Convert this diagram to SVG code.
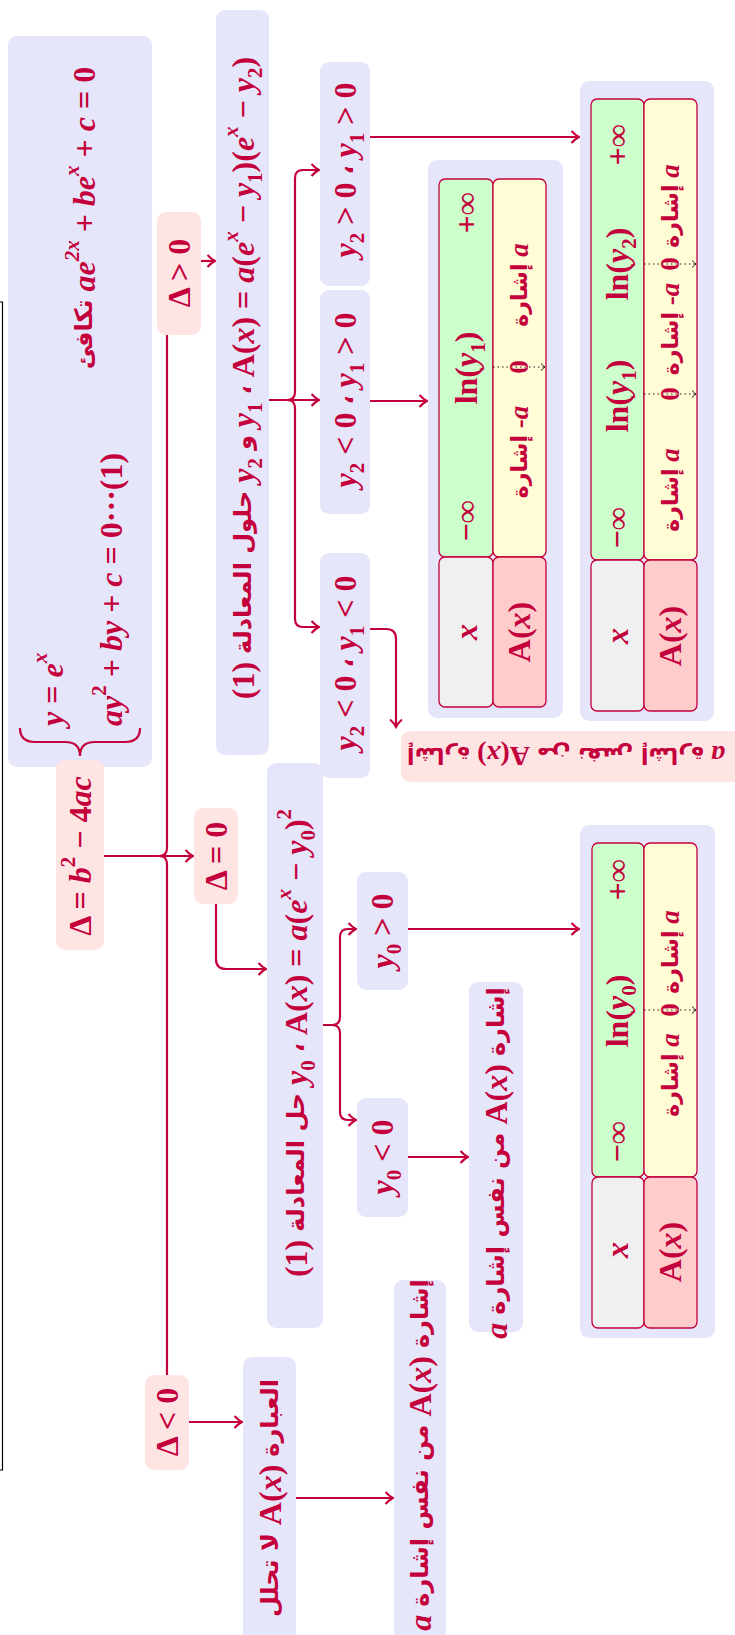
<svg xmlns="http://www.w3.org/2000/svg" width="735" height="1635" viewBox="0 0 735 1635">
<style>
.lav{fill:#e6e6fa}
.pk{fill:#ffe4e4}
.cell{stroke:#c4003c;stroke-width:1.3}
.g{fill:#ccffcc}.y{fill:#fffcd6}.gr{fill:#f0f0f0}.r{fill:#ffcccc}
.c{fill:none;stroke:#c4003c;stroke-width:2.2}
.t{fill:#c4003c;font-family:"Liberation Serif",serif;font-weight:bold;font-size:32px;text-anchor:middle;dominant-baseline:central}
.s{text-anchor:start}
.i{font-style:italic}
.ar{font-family:"DejaVu Sans",sans-serif;font-size:24px;font-style:normal}
.tb{font-size:27px}
.tb .ar{font-size:22px}
.fl{font-size:28px}
.fl .ar{font-size:22px}
.dot{stroke:#000;stroke-width:0.9;stroke-dasharray:1.5 3;fill:none}
</style>
<defs>
<marker id="a" viewBox="-9 -7 11 14" refX="0" refY="0" markerWidth="11" markerHeight="14" markerUnits="userSpaceOnUse" orient="auto">
<path d="M-7.5,-6 C-4,-2 -1,-0.5 0,0 C-1,0.5 -4,2 -7.5,6" fill="none" stroke="#c4003c" stroke-width="2"/>
</marker>
<marker id="b" viewBox="-6 -5 7 10" refX="0" refY="0" markerWidth="7" markerHeight="10" markerUnits="userSpaceOnUse" orient="auto">
<path d="M-4,-3.5 Q-1,-0.5 0,0 Q-1,0.5 -4,3.5" fill="none" stroke="#000" stroke-width="0.9"/>
</marker>
</defs>
<rect width="735" height="1635" fill="#fff"/>
<path d="M0,302 H2.5 V1470 H0" fill="none" stroke="#000" stroke-width="1.2"/>

<g id="connectors">
<path class="c" d="M104,856 H193" marker-end="url(#a)"/>
<path class="c" d="M104,856 H159 Q167,856 167,848 V335"/>
<path class="c" d="M159,856 Q167,856 167,864 V1375"/>
<path class="c" d="M201,261 H215" marker-end="url(#a)"/>
<path class="c" d="M216,904 V959 Q216,969 226,969 H266" marker-end="url(#a)"/>
<path class="c" d="M189,1422 H242" marker-end="url(#a)"/>
<path class="c" d="M269,400 H319" marker-end="url(#a)"/>
<path class="c" d="M269,400 H287 Q295,400 295,392 V178 Q295,170 303,170 H319" marker-end="url(#a)"/>
<path class="c" d="M287,400 Q295,400 295,408 V619 Q295,627 303,627 H319" marker-end="url(#a)"/>
<path class="c" d="M370,137 H579" marker-end="url(#a)"/>
<path class="c" d="M370,401 H427" marker-end="url(#a)"/>
<path class="c" d="M370,629 H386 Q396,629 396,639 V727" marker-end="url(#a)"/>
<path class="c" d="M323,1025 H332 Q340,1025 340,1017 V937 Q340,929 348,929 H356" marker-end="url(#a)"/>
<path class="c" d="M332,1025 Q340,1025 340,1033 V1112 Q340,1120 348,1120 H356" marker-end="url(#a)"/>
<path class="c" d="M408,929 H579" marker-end="url(#a)"/>
<path class="c" d="M408,1157 H468" marker-end="url(#a)"/>
<path class="c" d="M296,1498 H393" marker-end="url(#a)"/>
</g>

<g id="n-system">
<rect class="lav" x="8" y="36" width="144" height="731" rx="9"/>
<text class="t" x="84" y="218" transform="rotate(-90 84 218)"><tspan class="ar">&#x2067;تكافئ&#x2069;</tspan> <tspan class="i">ae</tspan><tspan class="i" baseline-shift="super" font-size="21">2x</tspan> + <tspan class="i">be</tspan><tspan class="i" baseline-shift="super" font-size="21">x</tspan> + <tspan class="i">c</tspan> = 0</text>
<text class="t s" x="52" y="726" transform="rotate(-90 52 726)"><tspan class="i">y</tspan> = <tspan class="i">e</tspan><tspan class="i" baseline-shift="super" font-size="21">x</tspan></text>
<text class="t s" x="111" y="726" transform="rotate(-90 111 726)"><tspan class="i">ay</tspan><tspan baseline-shift="super" font-size="21">2</tspan> + <tspan class="i">by</tspan> + <tspan class="i">c</tspan> = 0···(1)</text>
<path class="c" d="M20,728 Q20,742 35,742 H65 Q80,742 80,756 Q80,742 95,742 H125 Q140,742 140,728"/>
</g>

<g id="n-delta">
<rect class="pk" x="56" y="760" width="48" height="190" rx="9"/>
<text class="t" x="80" y="856" transform="rotate(-90 80 856)">Δ = <tspan class="i">b</tspan><tspan baseline-shift="super" font-size="21">2</tspan> − 4<tspan class="i">ac</tspan></text>
</g>

<g id="n-dpos">
<rect class="pk" x="157" y="212" width="44" height="123" rx="9"/>
<text class="t" x="179" y="273" transform="rotate(-90 179 273)">Δ &gt; 0</text>
</g>
<g id="n-dzero">
<rect class="pk" x="194" y="808" width="44" height="96" rx="9"/>
<text class="t" x="216" y="856" transform="rotate(-90 216 856)">Δ = 0</text>
</g>
<g id="n-dneg">
<rect class="pk" x="145" y="1375" width="44" height="95" rx="9"/>
<text class="t" x="167" y="1422" transform="rotate(-90 167 1422)">Δ &lt; 0</text>
</g>

<g id="n-two-roots">
<rect class="lav" x="216" y="10" width="53" height="745" rx="9"/>
<text class="t" x="243" y="378" transform="rotate(-90 243 378)">(1) <tspan class="ar">&#x2067;المعادلة&#x2069; &#x2067;حلول&#x2069;</tspan> <tspan class="i">y</tspan><tspan baseline-shift="sub" font-size="21">2</tspan> <tspan class="ar">&#x2067;و&#x2069;</tspan> <tspan class="i">y</tspan><tspan baseline-shift="sub" font-size="21">1</tspan> <tspan class="ar">&#x2067;،&#x2069;</tspan> A(<tspan class="i">x</tspan>) = <tspan class="i">a</tspan>(<tspan class="i">e</tspan><tspan class="i" baseline-shift="super" font-size="21">x</tspan> − <tspan class="i">y</tspan><tspan baseline-shift="sub" font-size="21">1</tspan>)(<tspan class="i">e</tspan><tspan class="i" baseline-shift="super" font-size="21">x</tspan> − <tspan class="i">y</tspan><tspan baseline-shift="sub" font-size="21">2</tspan>)</text>
</g>

<g id="n-pp">
<rect class="lav" x="320" y="62" width="50" height="224" rx="9"/>
<text class="t" x="345" y="170" transform="rotate(-90 345 170)"><tspan class="i">y</tspan><tspan baseline-shift="sub" font-size="21">2</tspan> &gt; 0 <tspan class="ar">&#x2067;،&#x2069;</tspan> <tspan class="i">y</tspan><tspan baseline-shift="sub" font-size="21">1</tspan> &gt; 0</text>
</g>
<g id="n-np">
<rect class="lav" x="320" y="290" width="50" height="224" rx="9"/>
<text class="t" x="345" y="400" transform="rotate(-90 345 400)"><tspan class="i">y</tspan><tspan baseline-shift="sub" font-size="21">2</tspan> &lt; 0 <tspan class="ar">&#x2067;،&#x2069;</tspan> <tspan class="i">y</tspan><tspan baseline-shift="sub" font-size="21">1</tspan> &gt; 0</text>
</g>
<g id="n-nn">
<rect class="lav" x="320" y="553" width="50" height="225" rx="9"/>
<text class="t" x="345" y="663" transform="rotate(-90 345 663)"><tspan class="i">y</tspan><tspan baseline-shift="sub" font-size="21">2</tspan> &lt; 0 <tspan class="ar">&#x2067;،&#x2069;</tspan> <tspan class="i">y</tspan><tspan baseline-shift="sub" font-size="21">1</tspan> &lt; 0</text>
</g>

<g id="n-flip">
<rect class="pk" x="401" y="731" width="345" height="51" rx="9"/>
<text class="t fl" x="566" y="756" transform="rotate(180 566 756)"><tspan class="i">a</tspan> <tspan class="ar">&#x2067;إشارة&#x2069; &#x2067;نفس&#x2069; &#x2067;من&#x2069;</tspan> A(<tspan class="i">x</tspan>) <tspan class="ar">&#x2067;إشارة&#x2069;</tspan></text>
</g>

<g id="table1">
<rect class="lav" x="428" y="160" width="135" height="558" rx="9"/>
<rect class="cell g" x="439" y="179" width="54" height="378" rx="6"/>
<rect class="cell y" x="493" y="179" width="53" height="378" rx="6"/>
<rect class="cell gr" x="439" y="557" width="54" height="150" rx="6"/>
<rect class="cell r" x="493" y="557" width="53" height="150" rx="6"/>
<path class="dot" d="M493,367 H545" marker-end="url(#b)"/>
<text class="t i" x="466" y="632" transform="rotate(-90 466 632)">x</text>
<text class="t" x="519" y="632" transform="rotate(-90 519 632)">A(<tspan class="i">x</tspan>)</text>
<text class="t" x="466" y="521" transform="rotate(-90 466 521)">−∞</text>
<text class="t" x="466" y="368" transform="rotate(-90 466 368)">ln(<tspan class="i">y</tspan><tspan baseline-shift="sub" font-size="21">1</tspan>)</text>
<text class="t" x="466" y="213" transform="rotate(-90 466 213)">+∞</text>
<text class="t tb" x="519" y="452" transform="rotate(-90 519 452)"><tspan class="ar">&#x2067;إشارة&#x2069;</tspan> -<tspan class="i">a</tspan></text>
<text class="t tb" x="519" y="367" transform="rotate(-90 519 367)">0</text>
<text class="t tb" x="519" y="285" transform="rotate(-90 519 285)"><tspan class="ar">&#x2067;إشارة&#x2069;</tspan> <tspan class="i">a</tspan></text>
</g>

<g id="table2">
<rect class="lav" x="580" y="81" width="134" height="640" rx="9"/>
<rect class="cell g" x="591" y="99" width="53" height="461" rx="6"/>
<rect class="cell y" x="644" y="99" width="53" height="461" rx="6"/>
<rect class="cell gr" x="591" y="560" width="53" height="151" rx="6"/>
<rect class="cell r" x="644" y="560" width="53" height="151" rx="6"/>
<path class="dot" d="M644,394 H696" marker-end="url(#b)"/>
<path class="dot" d="M644,264 H696" marker-end="url(#b)"/>
<text class="t i" x="617" y="636" transform="rotate(-90 617 636)">x</text>
<text class="t" x="670" y="636" transform="rotate(-90 670 636)">A(<tspan class="i">x</tspan>)</text>
<text class="t" x="617" y="528" transform="rotate(-90 617 528)">−∞</text>
<text class="t" x="617" y="396" transform="rotate(-90 617 396)">ln(<tspan class="i">y</tspan><tspan baseline-shift="sub" font-size="21">1</tspan>)</text>
<text class="t" x="617" y="264" transform="rotate(-90 617 264)">ln(<tspan class="i">y</tspan><tspan baseline-shift="sub" font-size="21">2</tspan>)</text>
<text class="t" x="617" y="145" transform="rotate(-90 617 145)">+∞</text>
<text class="t tb" x="670" y="490" transform="rotate(-90 670 490)"><tspan class="ar">&#x2067;إشارة&#x2069;</tspan> <tspan class="i">a</tspan></text>
<text class="t tb" x="670" y="394" transform="rotate(-90 670 394)">0</text>
<text class="t tb" x="670" y="329" transform="rotate(-90 670 329)"><tspan class="ar">&#x2067;إشارة&#x2069;</tspan> -<tspan class="i">a</tspan></text>
<text class="t tb" x="670" y="264" transform="rotate(-90 670 264)">0</text>
<text class="t tb" x="670" y="206" transform="rotate(-90 670 206)"><tspan class="ar">&#x2067;إشارة&#x2069;</tspan> <tspan class="i">a</tspan></text>
</g>

<g id="n-one-root">
<rect class="lav" x="267" y="763" width="56" height="565" rx="9"/>
<text class="t" x="296" y="1043" transform="rotate(-90 296 1043)">(1) <tspan class="ar">&#x2067;المعادلة&#x2069; &#x2067;حل&#x2069;</tspan> <tspan class="i">y</tspan><tspan baseline-shift="sub" font-size="21">0</tspan> <tspan class="ar">&#x2067;،&#x2069;</tspan> A(<tspan class="i">x</tspan>) = <tspan class="i">a</tspan>(<tspan class="i">e</tspan><tspan class="i" baseline-shift="super" font-size="21">x</tspan> − <tspan class="i">y</tspan><tspan baseline-shift="sub" font-size="21">0</tspan>)<tspan baseline-shift="super" font-size="21">2</tspan></text>
</g>
<g id="n-y0pos">
<rect class="lav" x="357" y="872" width="51" height="118" rx="9"/>
<text class="t" x="382" y="931" transform="rotate(-90 382 931)"><tspan class="i">y</tspan><tspan baseline-shift="sub" font-size="21">0</tspan> &gt; 0</text>
</g>
<g id="n-y0neg">
<rect class="lav" x="357" y="1098" width="51" height="119" rx="9"/>
<text class="t" x="382" y="1157" transform="rotate(-90 382 1157)"><tspan class="i">y</tspan><tspan baseline-shift="sub" font-size="21">0</tspan> &lt; 0</text>
</g>
<g id="n-sign1">
<rect class="lav" x="469" y="982" width="54" height="350" rx="9"/>
<text class="t" x="496" y="1163" transform="rotate(-90 496 1163)"><tspan class="i">a</tspan> <tspan class="ar">&#x2067;إشارة&#x2069; &#x2067;نفس&#x2069; &#x2067;من&#x2069;</tspan> A(<tspan class="i">x</tspan>) <tspan class="ar">&#x2067;إشارة&#x2069;</tspan></text>
</g>

<g id="table3">
<rect class="lav" x="580" y="825" width="135" height="513" rx="9"/>
<rect class="cell g" x="592" y="843" width="52" height="334" rx="6"/>
<rect class="cell y" x="644" y="843" width="53" height="334" rx="6"/>
<rect class="cell gr" x="592" y="1177" width="52" height="151" rx="6"/>
<rect class="cell r" x="644" y="1177" width="53" height="151" rx="6"/>
<path class="dot" d="M644,1010 H696" marker-end="url(#b)"/>
<text class="t i" x="617" y="1250" transform="rotate(-90 617 1250)">x</text>
<text class="t" x="670" y="1252" transform="rotate(-90 670 1252)">A(<tspan class="i">x</tspan>)</text>
<text class="t" x="617" y="1142" transform="rotate(-90 617 1142)">−∞</text>
<text class="t" x="617" y="1011" transform="rotate(-90 617 1011)">ln(<tspan class="i">y</tspan><tspan baseline-shift="sub" font-size="21">0</tspan>)</text>
<text class="t" x="617" y="880" transform="rotate(-90 617 880)">+∞</text>
<text class="t tb" x="670" y="1075" transform="rotate(-90 670 1075)"><tspan class="ar">&#x2067;إشارة&#x2069;</tspan> <tspan class="i">a</tspan></text>
<text class="t tb" x="670" y="1010" transform="rotate(-90 670 1010)">0</text>
<text class="t tb" x="670" y="952" transform="rotate(-90 670 952)"><tspan class="ar">&#x2067;إشارة&#x2069;</tspan> <tspan class="i">a</tspan></text>
</g>

<g id="n-irreducible">
<rect class="lav" x="243" y="1357" width="53" height="290" rx="9"/>
<text class="t" x="270" y="1498" transform="rotate(-90 270 1498)"><tspan class="ar">&#x2067;تحلل&#x2069; &#x2067;لا&#x2069;</tspan> A(<tspan class="i">x</tspan>) <tspan class="ar">&#x2067;العبارة&#x2069;</tspan></text>
</g>
<g id="n-sign2">
<rect class="lav" x="394" y="1280" width="52" height="370" rx="9"/>
<text class="t" x="420" y="1455" transform="rotate(-90 420 1455)"><tspan class="i">a</tspan> <tspan class="ar">&#x2067;إشارة&#x2069; &#x2067;نفس&#x2069; &#x2067;من&#x2069;</tspan> A(<tspan class="i">x</tspan>) <tspan class="ar">&#x2067;إشارة&#x2069;</tspan></text>
</g>
</svg>
